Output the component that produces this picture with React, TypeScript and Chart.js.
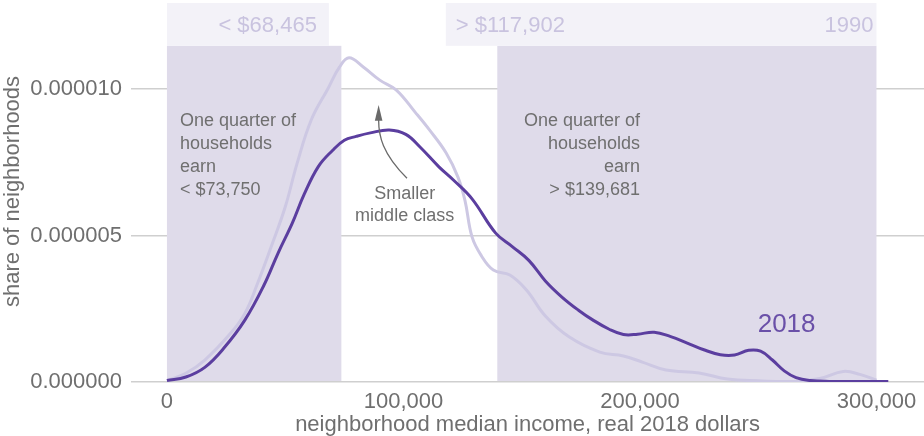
import React, { useEffect, useRef } from 'react';
import { Chart, registerables } from 'chart.js';

Chart.register(...registerables);

// ---- data (income in dollars, density per dollar) ----
const income2018 = [0, 8000, 16000, 24000, 33000, 41000, 47000, 53000, 58000, 64000, 70000, 75000, 80000, 86000, 94000, 101000, 107000, 115000, 121000, 129000, 139000, 146000, 153000, 160000, 167000, 174000, 180000, 187000, 193000, 199000, 206000, 213000, 220000, 227000, 234000, 240000, 246000, 251000, 256000, 261000, 266000, 272000, 280000, 292000, 305000];
const share2018 = [0.05e-6, 0.17e-6, 0.5e-6, 1.15e-6, 2.12e-6, 3.3e-6, 4.4e-6, 5.42e-6, 6.4e-6, 7.35e-6, 7.9e-6, 8.25e-6, 8.38e-6, 8.5e-6, 8.6e-6, 8.45e-6, 8.02e-6, 7.34e-6, 6.9e-6, 6.25e-6, 5.08e-6, 4.62e-6, 4.15e-6, 3.45e-6, 2.9e-6, 2.45e-6, 2.12e-6, 1.8e-6, 1.62e-6, 1.63e-6, 1.7e-6, 1.55e-6, 1.33e-6, 1.1e-6, 0.93e-6, 0.92e-6, 1.08e-6, 1.05e-6, 0.75e-6, 0.38e-6, 0.15e-6, 0.05e-6, 0.02e-6, 0.02e-6, 0.02e-6];

const income1990 = [0, 8000, 16000, 27000, 33000, 38000, 44000, 50000, 55000, 61000, 68000, 73000, 77000, 83000, 90000, 97000, 105000, 111000, 118000, 123000, 126000, 129000, 133000, 138000, 145000, 152000, 160000, 170000, 183000, 193000, 201000, 211000, 225000, 237000, 250000, 265000, 276000, 286000, 293000, 300000];
const share1990 = [0.05e-6, 0.3e-6, 0.75e-6, 1.67e-6, 2.35e-6, 3.3e-6, 4.6e-6, 5.97e-6, 7.45e-6, 8.94e-6, 10.0e-6, 10.75e-6, 11.06e-6, 10.75e-6, 10.3e-6, 9.96e-6, 9.2e-6, 8.6e-6, 7.82e-6, 7.0e-6, 6.2e-6, 4.95e-6, 4.3e-6, 3.82e-6, 3.65e-6, 3.14e-6, 2.25e-6, 1.54e-6, 1.02e-6, 0.89e-6, 0.68e-6, 0.41e-6, 0.31e-6, 0.1e-6, 0.04e-6, 0.02e-6, 0.12e-6, 0.36e-6, 0.26e-6, 0.06e-6];

const xTickValues = [0, 100000, 200000, 300000];
const yTickValues = [0, 0.000005, 0.00001];

const quartiles2018 = [73750, 139681];
const quartiles1990 = [68465, 117902];
const incomeRangeEnd = 300000;

const leftNote = ['One quarter of', 'households', 'earn', '< $73,750'];
const rightNote = ['One quarter of', 'households', 'earn', '> $139,681'];
const middleNote = ['Smaller', 'middle class'];
const band1990Labels = ['< $68,465', '> $117,902', '1990'];
const seriesLabel = '2018';

const FONT = '"Liberation Sans", Arial, Helvetica, sans-serif';
const GRAY = '#6f6f6f';

const annotationPlugin = {
  id: 'incomeAnnotations',
  beforeDatasetsDraw(chart: any) {
    const { ctx, scales } = chart;
    const x = scales.x;
    const y = scales.y;
    const y0 = y.getPixelForValue(0);
    const rectTop = y.getPixelForValue(11.47e-6);
    const bandTop = y.getPixelForValue(12.93e-6);
    ctx.save();
    // 2018 quartile rectangles
    ctx.fillStyle = '#dfdbea';
    const xa = x.getPixelForValue(0);
    const xb = x.getPixelForValue(quartiles2018[0]);
    const xc = x.getPixelForValue(quartiles2018[1]);
    const xd = x.getPixelForValue(incomeRangeEnd);
    ctx.fillRect(xa, rectTop, xb - xa, y0 - rectTop - 1);
    ctx.fillRect(xc, rectTop, xd - xc, y0 - rectTop - 1);
    // 1990 bands
    ctx.fillStyle = '#f3f2f8';
    const xe = x.getPixelForValue(quartiles1990[0]);
    const xf = x.getPixelForValue(quartiles1990[1]);
    ctx.fillRect(xa, bandTop, xe - xa, rectTop - bandTop);
    ctx.fillRect(xf, bandTop, xd - xf, rectTop - bandTop);
    // band labels
    ctx.fillStyle = '#c9c3df';
    ctx.font = `22px ${FONT}`;
    ctx.textBaseline = 'middle';
    const bandMid = (bandTop + rectTop) / 2 + 1;
    ctx.textAlign = 'right';
    ctx.fillText(band1990Labels[0], xe - 12, bandMid);
    ctx.textAlign = 'left';
    ctx.fillText(band1990Labels[1], xf + 10, bandMid);
    ctx.textAlign = 'right';
    ctx.fillText(band1990Labels[2], xd - 3, bandMid);
    ctx.restore();
  },
  afterDatasetsDraw(chart: any) {
    const { ctx, scales } = chart;
    const x = scales.x;
    const y = scales.y;
    ctx.save();
    ctx.font = `18px ${FONT}`;
    ctx.fillStyle = GRAY;
    ctx.textBaseline = 'middle';
    const firstLine = y.getPixelForValue(8.9e-6);
    const lh = 23;
    ctx.textAlign = 'left';
    const lx = x.getPixelForValue(5500);
    leftNote.forEach((t, i) => ctx.fillText(t, lx, firstLine + i * lh));
    ctx.textAlign = 'right';
    const rx = x.getPixelForValue(200000);
    rightNote.forEach((t, i) => ctx.fillText(t, rx, firstLine + i * lh));
    ctx.textAlign = 'center';
    const mx = x.getPixelForValue(100500);
    const my = y.getPixelForValue(6.43e-6);
    middleNote.forEach((t, i) => ctx.fillText(t, mx, my + i * 22));

    // arrow
    const sx = x.getPixelForValue(101500), sy = y.getPixelForValue(6.95e-6);
    const c1x = x.getPixelForValue(91000), c1y = y.getPixelForValue(7.8e-6);
    const c2x = x.getPixelForValue(89500), c2y = y.getPixelForValue(8.4e-6);
    const ex = x.getPixelForValue(89500), ey = y.getPixelForValue(8.95e-6);
    ctx.strokeStyle = '#6a6a6a';
    ctx.lineWidth = 1.3;
    ctx.beginPath();
    ctx.moveTo(sx, sy);
    ctx.bezierCurveTo(c1x, c1y, c2x, c2y, ex, ey);
    ctx.stroke();
    const tipY = y.getPixelForValue(9.45e-6);
    ctx.fillStyle = '#6a6a6a';
    ctx.beginPath();
    ctx.moveTo(ex, tipY);
    ctx.lineTo(ex - 3.8, ey + 1);
    ctx.lineTo(ex + 3.8, ey + 1);
    ctx.closePath();
    ctx.fill();

    // series label
    ctx.font = `26px ${FONT}`;
    ctx.fillStyle = '#6a50a8';
    ctx.textAlign = 'center';
    ctx.fillText(seriesLabel, x.getPixelForValue(262000), y.getPixelForValue(1.95e-6));
    ctx.restore();
  },
};

export default function App() {
  const canvasRef = useRef<HTMLCanvasElement | null>(null);

  useEffect(() => {
    if (!canvasRef.current) return;
    const chart = new Chart(canvasRef.current, {
      type: 'line',
      data: {
        datasets: [
          {
            label: '2018',
            data: income2018.map((v, i) => ({ x: v, y: share2018[i] })),
            borderColor: '#5b3e9f',
            borderWidth: 3,
            pointRadius: 0,
            tension: 0.4,
            fill: false,
          },
          {
            label: '1990',
            data: income1990.map((v, i) => ({ x: v, y: share1990[i] })),
            borderColor: '#cdc8e3',
            borderWidth: 3,
            pointRadius: 0,
            tension: 0.4,
            fill: false,
          },
        ],
      },
      options: {
        responsive: false,
        animation: false,
        layout: { padding: { top: 1, left: 0, right: 0, bottom: 0 } },
        plugins: { legend: { display: false }, tooltip: { enabled: false } },
        scales: {
          x: {
            type: 'linear',
            min: -15200,
            max: 320100,
            grid: { display: false, drawTicks: false },
            border: { display: false },
            afterBuildTicks: (s: any) => {
              s.ticks = xTickValues.map((v) => ({ value: v }));
            },
            afterFit: (s: any) => {
              s.height = 54;
              s.paddingLeft = 0;
              s.paddingRight = 0;
              s.paddingTop = 0;
              s.paddingBottom = 0;
            },
            ticks: {
              font: { family: FONT, size: 22 },
              color: GRAY,
              padding: 7,
              maxRotation: 0,
              autoSkip: false,
              callback: (v: any) => Number(v).toLocaleString('en-US'),
            },
            title: {
              display: true,
              text: 'neighborhood median income, real 2018 dollars',
              font: { family: FONT, size: 22 },
              color: GRAY,
              padding: { top: 0, bottom: -2 },
            },
          },
          y: {
            type: 'linear',
            min: 0,
            max: 0.000013,
            grid: { color: '#cfcfcf', lineWidth: 1.5, drawTicks: false },
            border: { display: false },
            afterBuildTicks: (s: any) => {
              s.ticks = yTickValues.map((v) => ({ value: v }));
            },
            afterFit: (s: any) => {
              s.width = 131;
              s.paddingLeft = 0;
              s.paddingRight = 0;
              s.paddingTop = 0;
              s.paddingBottom = 0;
            },
            ticks: {
              font: { family: FONT, size: 22 },
              color: GRAY,
              padding: 9,
              callback: (v: any) => Number(v).toFixed(6),
            },
            title: {
              display: true,
              text: 'share of neighborhoods',
              font: { family: FONT, size: 22 },
              color: GRAY,
              padding: { top: 0, bottom: 0 },
            },
          },
        },
      },
      plugins: [annotationPlugin],
    } as any);
    return () => chart.destroy();
  }, []);

  return (
    <div style={{ position: 'absolute', left: 0, top: 0, width: 924, height: 436, background: '#fff' }}>
      <canvas ref={canvasRef} width={924} height={436} style={{ display: 'block' }} />
    </div>
  );
}
